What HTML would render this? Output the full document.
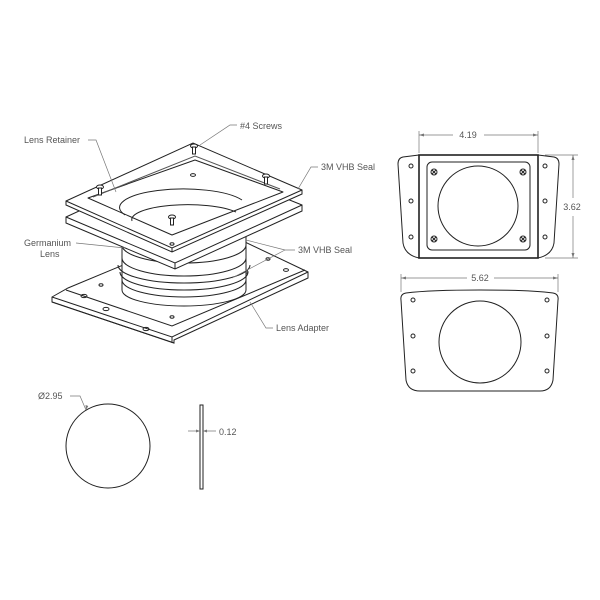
<!DOCTYPE html>
<html><head><meta charset="utf-8"><style>
html,body{margin:0;padding:0;background:#fff;}
svg{display:block;}
text{font-family:"Liberation Sans",sans-serif;font-size:9px;fill:#555;}
</style></head><body>
<svg width="600" height="600" viewBox="0 0 600 600" xmlns="http://www.w3.org/2000/svg">
<g fill="none" stroke="#222" stroke-width="1">
<!-- Adapter plate -->
<path d="M52,297 L68,288 L140,258 L245,242 L308,272 L308,278 L174,340 L174,343 L52,302 Z" fill="#fff"/>
<path d="M52,297 L172,337 L308,272"/>
<path d="M52,302 L174,343"/>
<path d="M66,290 L172,326 L305,270"/>
<path d="M172,337 L172,343"/>
<ellipse cx="84" cy="296" rx="3" ry="1.6"/>
<ellipse cx="106" cy="309" rx="3" ry="1.6"/>
<ellipse cx="146" cy="329" rx="3" ry="1.6"/>
<ellipse cx="101" cy="285" rx="2" ry="1.2"/>
<ellipse cx="172" cy="317" rx="2" ry="1.2"/>
<ellipse cx="246" cy="272" rx="2" ry="1.2"/>
<ellipse cx="286" cy="270" rx="2.5" ry="1.4"/>
<ellipse cx="268" cy="259" rx="2" ry="1.2"/>
<!-- Cylinder -->
<path d="M122,205 L122,290 A62,16 0 0 0 246,290 L246,205" fill="#fff"/>
<path d="M122,258 A62,18 0 0 0 246,258"/>
<path d="M118,265 A66,18 0 0 0 250,265"/>
<path d="M120,272 A64,18 0 0 0 248,272"/>
<path d="M122,280 A62,17 0 0 0 246,280"/>
<path d="M122,245 A62,18 0 0 0 246,245"/>
<ellipse cx="185" cy="205" rx="62" ry="18" fill="#fff"/>
<ellipse cx="185" cy="210" rx="56" ry="15"/>
<!-- Seal -->
<path d="M66,217 L190,160 L302,205 L302,211 L175,269 L66,223 Z" fill="#fff"/>
<path d="M66,217 L175,263 L302,205"/>
<path d="M175,263 L175,269"/>
<!-- Retainer -->
<path d="M66,201 L193,143 L302,190 L302,194 L172,252 L66,205 Z" fill="#fff"/>
<path d="M66,201 L172,248 L302,190"/>
<path d="M172,248 L172,252"/>
<path d="M88,198 L195,160 L283,192 L172,235 Z" fill="#fff" stroke-linejoin="round"/>
<path d="M93,197 L195,156 L280,189" stroke="#555"/>
<path d="M125,215 A62,18 0 0 1 242,200" />
<path d="M132,221 A56,15 0 0 1 236,212" />
<ellipse cx="193" cy="175" rx="2.5" ry="1.4"/>
<ellipse cx="172" cy="244" rx="2" ry="1.2"/>
<!-- screws -->
<g fill="#fff">
<ellipse cx="194" cy="146" rx="3.5" ry="2"/><rect x="192.5" y="147" width="3" height="7"/>
<ellipse cx="100" cy="187" rx="3.5" ry="2"/><rect x="98.5" y="188" width="3" height="7"/>
<ellipse cx="266" cy="176" rx="3.5" ry="2"/><rect x="264.5" y="177" width="3" height="7"/>
<ellipse cx="172" cy="217" rx="3.5" ry="2"/><rect x="170.5" y="218" width="3" height="7"/>
</g>
</g>
<!-- leaders -->
<g fill="none" stroke="#777" stroke-width="0.7">
<path d="M88,140 L96,140 L116,192"/>
<path d="M237,125 L230,125 L200,145"/>
<path d="M318,167 L311,167 L298,189"/>
<path d="M76,243 L125,248"/>
<path d="M295,250 L285,250 L246,240"/>
<path d="M285,250 L232,278"/>
<path d="M273,328 L266,328 L250,302"/>
<path d="M70,396 L80,396 L86,410"/>
</g>
<g>
<text x="24" y="143">Lens Retainer</text>
<text x="240" y="129">#4 Screws</text>
<text x="321" y="170">3M VHB Seal</text>
<text x="24" y="246">Germanium</text>
<text x="40" y="257">Lens</text>
<text x="298" y="253">3M VHB Seal</text>
<text x="276" y="331">Lens Adapter</text>
<text x="38" y="399">Ø2.95</text>
<text x="219" y="435">0.12</text>
<text x="468" y="138" text-anchor="middle">4.19</text>
<text x="572" y="210" text-anchor="middle">3.62</text>
<text x="480" y="281" text-anchor="middle">5.62</text>
</g>
<!-- lens flat -->
<g fill="none" stroke="#222" stroke-width="1">
<circle cx="108" cy="446" r="42"/>
<rect x="200" y="405" width="3" height="84"/>
</g>
<g stroke="#777" stroke-width="0.7" fill="none">
<path d="M188,431 L200,431 M203,431 L216,431"/>
<path d="M419,135 L453,135 M484,135 L538,135"/>
<path d="M419,153 L419,131 M538,153 L538,131"/>
<path d="M573,155 L573,198 M573,216 L573,258"/>
<path d="M545,155 L578,155 M545,258 L578,258"/>
<path d="M401,278 L467,278 M494,278 L558,278"/>
<path d="M401,292 L401,274 M558,292 L558,274"/>
</g>
<g fill="#777">
<path d="M200,431 l-4,-1.5 v3z M203,431 l4,-1.5 v3z"/>
<path d="M419,135 l5,-1.5 v3z M538,135 l-5,-1.5 v3z"/>
<path d="M573,155 l-1.5,5 h3z M573,258 l-1.5,-5 h3z"/>
<path d="M401,278 l5,-1.5 v3z M558,278 l-5,-1.5 v3z"/>
<path d="M86,410 l-0.5,-5 l2.8,1z"/>
</g>
<!-- top view -->
<g fill="none" stroke="#222" stroke-width="1">
<path d="M419,155 L403,157 Q398,158 398,164 L403,243 Q405,255 419,258"/>
<path d="M538,155 L554,157 Q559,158 559,164 L554,243 Q552,255 538,258"/>
<rect x="419" y="155" width="119" height="103" stroke-width="1.6"/>
<rect x="427" y="162" width="103" height="88" rx="5"/>
<circle cx="478" cy="206" r="40"/>
<g fill="#fff"><circle cx="411" cy="166" r="2"/><circle cx="411" cy="201" r="2"/><circle cx="411" cy="237" r="2"/>
<circle cx="545" cy="166" r="2"/><circle cx="545" cy="201" r="2"/><circle cx="545" cy="237" r="2"/></g>
<g><circle cx="434" cy="172" r="3"/><circle cx="523" cy="172" r="3"/><circle cx="434" cy="239" r="3"/><circle cx="523" cy="239" r="3"/>
<path d="M432,170 l4,4 M436,170 l-4,4 M521,170 l4,4 M525,170 l-4,4 M432,237 l4,4 M436,237 l-4,4 M521,237 l4,4 M525,237 l-4,4"/></g>
<!-- bottom view -->
<path d="M406,293 Q430,290 480,290 Q530,290 553,293 Q559,294 558,300 L553,380 Q551,391 540,391 L420,391 Q408,391 406,380 L401,300 Q400,294 406,293 Z"/>
<circle cx="480" cy="342" r="41"/>
<g fill="#fff"><circle cx="413" cy="300" r="2"/><circle cx="413" cy="336" r="2"/><circle cx="413" cy="371" r="2"/>
<circle cx="547" cy="300" r="2"/><circle cx="547" cy="336" r="2"/><circle cx="547" cy="371" r="2"/></g>
</g>
</svg>
</body></html>
